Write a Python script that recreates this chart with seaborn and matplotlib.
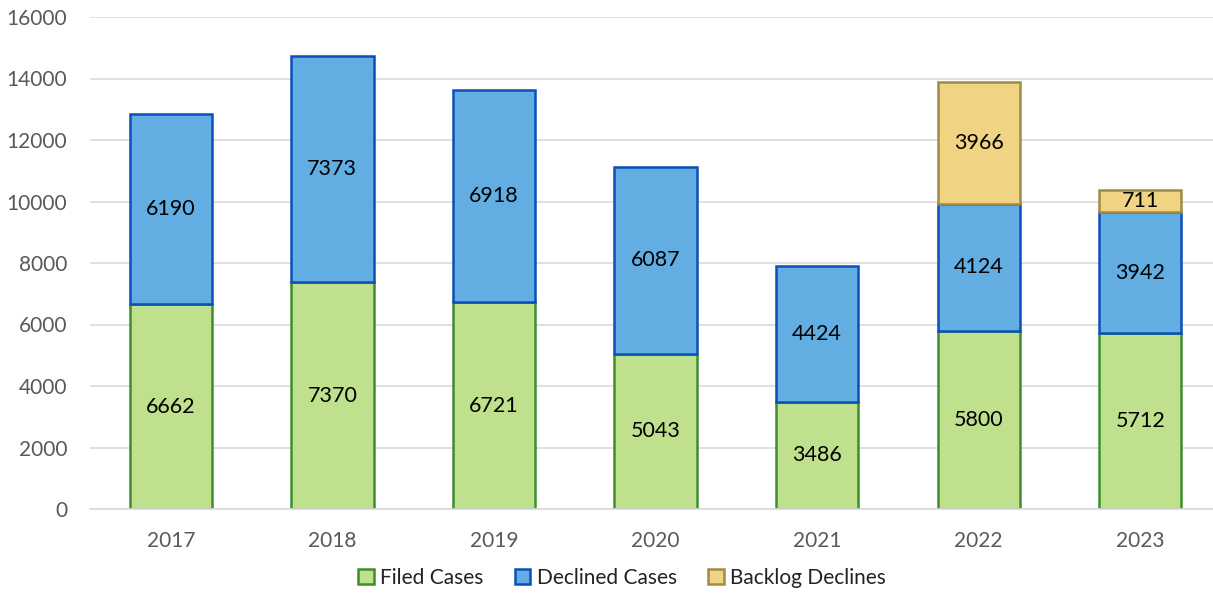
import matplotlib
matplotlib.use("Agg")
import matplotlib.pyplot as plt
from matplotlib.patches import Patch
import numpy as np
import pandas as pd
import seaborn as sns

years = ["2017", "2018", "2019", "2020", "2021", "2022", "2023"]
filed = [6662, 7370, 6721, 5043, 3486, 5800, 5712]
declined = [6190, 7373, 6918, 6087, 4424, 4124, 3942]
backlog_years = ["2022", "2023"]
backlog = [3966, 711]

series_names = ["Filed Cases", "Declined Cases", "Backlog Declines"]
face_colors = ["#BFE08C", "#62AEE3", "#F1D384"]
edge_colors = ["#3E8E2E", "#0B4FB8", "#A08A45"]

sns.set_theme(style="white")
plt.rcParams["font.family"] = ["Lato", "DejaVu Sans"]

fig = plt.figure(figsize=(12.13, 5.93), dpi=100)
ax = fig.add_axes([90 / 1213, 1 - 509 / 593, (1213 - 90) / 1213, (509 - 17) / 593])

df = pd.DataFrame({"year": years, "filed": filed, "declined": declined})
df["stack1"] = df["filed"] + df["declined"]
bdf = pd.DataFrame({"year": backlog_years, "backlog": backlog})
bdf["bottom"] = bdf["year"].map(dict(zip(df["year"], df["stack1"])))

bar_w = 0.51
common = dict(order=years, width=bar_w, saturation=1, errorbar=None, linewidth=1.8, ax=ax)

sns.barplot(data=df, x="year", y="filed", color=face_colors[0],
            edgecolor=edge_colors[0], **common)
sns.barplot(data=df, x="year", y="declined", color=face_colors[1],
            edgecolor=edge_colors[1], bottom=df["filed"].to_numpy(), **common)
sns.barplot(data=bdf, x="year", y="backlog", color=face_colors[2],
            edgecolor=edge_colors[2], bottom=bdf["bottom"].to_numpy(), **common)

# value labels centred in each segment
for container, vals in zip(ax.containers, [filed, declined, backlog]):
    labels = [str(v) for v in vals]
    ax.bar_label(container, labels=labels, label_type="center",
                 fontsize=15.5, color="#000000")

ax.set_ylim(0, 16000)
ax.set_xlim(-0.5, 6.45)
ax.set_yticks(np.arange(0, 16001, 2000))
ax.yaxis.grid(True, color="#D9D9D9", linewidth=1.2)
ax.set_axisbelow(True)
for side in ["top", "right", "left"]:
    ax.spines[side].set_visible(False)
ax.spines["bottom"].set_color("#D9D9D9")
ax.spines["bottom"].set_linewidth(1.2)
ax.set_xlabel("")
ax.set_ylabel("")
ax.tick_params(axis="both", length=0, labelsize=15, labelcolor="#595959")
ax.tick_params(axis="y", pad=16.5)
ax.tick_params(axis="x", pad=16)

handles = [Patch(facecolor=f, edgecolor=e, linewidth=1.8, label=n)
           for f, e, n in zip(face_colors, edge_colors, series_names)]
fig.legend(handles=handles, loc="center", bbox_to_anchor=(622 / 1213, 1 - 578 / 593),
           ncol=3, frameon=False, fontsize=15, handlelength=0.75, handleheight=0.75,
           handletextpad=0.3, columnspacing=1.5, labelcolor="#222222")

fig.savefig("out.png", dpi=100)
